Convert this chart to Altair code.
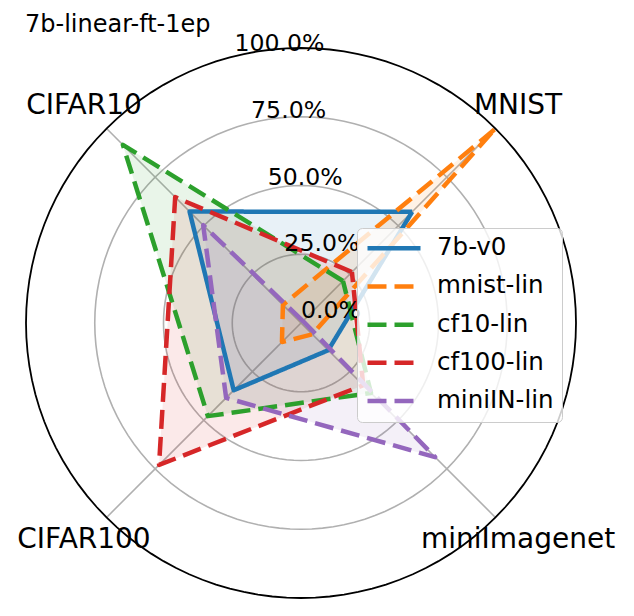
import altair as alt
import pandas as pd

# ---------------- data ----------------
CATEGORIES = ["MNIST", "CIFAR10", "CIFAR100", "miniImagenet"]
ANGLES = [45, 135, 225, 315]          # degrees, counter-clockwise from east
SERIES = ["7b-v0", "mnist-lin", "cf10-lin", "cf100-lin", "miniIN-lin"]
V_7B_V0 = [57.2, 57.3, 34.6, 14.0]
V_MNIST_LIN = [99.5, 9.3, 9.8, 5.8]
V_CF10_LIN = [21.6, 91.6, 47.9, 36.0]
V_CF100_LIN = [26.2, 64.7, 73.0, 32.0]
V_MINIIN_LIN = [1.0, 50.3, 38.5, 69.0]
VALUES = [V_7B_V0, V_MNIST_LIN, V_CF10_LIN, V_CF100_LIN, V_MINIIN_LIN]
COLORS = ["#1f77b4", "#ff7f0e", "#2ca02c", "#d62728", "#9467bd"]
DASHES = [[1, 0], [19, 8], [19, 8], [19, 8], [19, 8]]
RTICKS = [0, 25, 50, 75, 100]
RTICK_LABELS = ["0.0%", "25.0%", "50.0%", "75.0%", "100.0%"]
GRID_R = [25, 50, 75]
OUTER_R = 100
TITLE = "7b-linear-ft-1ep"

# ---------------- layout ----------------
W, H = 614, 596
CX, CY = 293, 315          # centre of the polar area in chart pixels
PX_PER_UNIT = 2.75         # pixels per 1 % of radius
LABEL_R = 111.6            # radius of the category labels (in % units)
RLABEL_ANGLE = 104         # angle of the radial tick labels
FONT = "DejaVu Sans"

XMIN, XMAX = -CX / PX_PER_UNIT, (W - CX) / PX_PER_UNIT
YMIN, YMAX = -(H - CY) / PX_PER_UNIT, CY / PX_PER_UNIT

X_ENC = alt.X("x:Q", scale=alt.Scale(domain=[XMIN, XMAX], nice=False, zero=False), axis=None)
Y_ENC = alt.Y("y:Q", scale=alt.Scale(domain=[YMIN, YMAX], nice=False, zero=False), axis=None)

XY_CALC = dict(
    x="datum.r * cos(datum.angle * PI / 180)",
    y="datum.r * sin(datum.angle * PI / 180)",
)

# series table (closed polygons)
rows = []
for s, vals in zip(SERIES, VALUES):
    for i in range(len(CATEGORIES) + 1):
        k = i % len(CATEGORIES)
        rows.append(dict(series=s, category=CATEGORIES[k], angle=ANGLES[k], r=vals[k], order=i))
series_df = pd.DataFrame(rows)

# grid circles
grid_rows = []
for r in GRID_R + [OUTER_R]:
    for t in range(0, 361, 3):
        grid_rows.append(dict(r=r, angle=t))
grid_df = pd.DataFrame(grid_rows)

spoke_df = pd.DataFrame(dict(angle=ANGLES, r=[OUTER_R] * len(ANGLES)))
cat_df = pd.DataFrame(dict(category=CATEGORIES, angle=ANGLES, r=[LABEL_R] * len(ANGLES)))
rtick_df = pd.DataFrame(dict(r=RTICKS, label=RTICK_LABELS, angle=[RLABEL_ANGLE] * len(RTICKS)))

# ---------------- layers ----------------
grid = (
    alt.Chart(grid_df)
    .transform_filter(f"datum.r < {OUTER_R}")
    .transform_calculate(**XY_CALC)
    .mark_line(color="#b0b0b0", strokeWidth=1.6)
    .encode(x=X_ENC, y=Y_ENC, detail="r:N", order="angle:Q")
)

spokes = (
    alt.Chart(spoke_df)
    .transform_calculate(x="0", y="0",
                         x2="datum.r * cos(datum.angle * PI / 180)",
                         y2="datum.r * sin(datum.angle * PI / 180)")
    .mark_rule(color="#b0b0b0", strokeWidth=1.6)
    .encode(x=X_ENC, y=Y_ENC, x2="x2:Q", y2="y2:Q")
)

outer = (
    alt.Chart(grid_df)
    .transform_filter(f"datum.r == {OUTER_R}")
    .transform_calculate(**XY_CALC)
    .mark_line(color="black", strokeWidth=1.8)
    .encode(x=X_ENC, y=Y_ENC, detail="r:N", order="angle:Q")
)

LEG = alt.Legend(
    title=None, orient="none", legendX=349, legendY=220,
    labelFontSize=24.5, labelFont=FONT, labelColor="black", labelLimit=400,
    symbolType="stroke", symbolSize=2809, symbolStrokeWidth=4.5,
    fillColor="rgba(255,255,255,0.8)", strokeColor="#cccccc", cornerRadius=5,
    padding=8, rowPadding=12.2, labelOffset=14, clipHeight=24.5,
)

fill_layers = []
for s, c in zip(SERIES, COLORS):
    fill_layers.append(
        alt.Chart(series_df)
        .transform_filter(alt.datum.series == s)
        .transform_calculate(**XY_CALC)
        .mark_line(fill=c, fillOpacity=0.1, strokeWidth=0, strokeOpacity=0)
        .encode(x=X_ENC, y=Y_ENC, order="order:Q")
    )

lines = (
    alt.Chart(series_df)
    .transform_calculate(**XY_CALC)
    .mark_line(strokeWidth=4.5, strokeJoin="round")
    .encode(
        x=X_ENC, y=Y_ENC,
        color=alt.Color("series:N", scale=alt.Scale(domain=SERIES, range=COLORS), legend=LEG),
        strokeDash=alt.StrokeDash("series:N", scale=alt.Scale(domain=SERIES, range=DASHES), legend=LEG),
        order="order:Q",
    )
)

cat_labels = (
    alt.Chart(cat_df)
    .transform_calculate(**XY_CALC)
    .mark_text(font=FONT, fontSize=28, align="center", baseline="middle", color="black")
    .encode(x=X_ENC, y=Y_ENC, text="category:N")
)

r_labels = (
    alt.Chart(rtick_df)
    .transform_calculate(**XY_CALC)
    .mark_text(font=FONT, fontSize=23.6, align="left", baseline="alphabetic", dy=-5, color="black")
    .encode(x=X_ENC, y=Y_ENC, text="label:N")
)

chart = (
    alt.layer(grid, spokes, *fill_layers, lines, outer, cat_labels, r_labels)
    .properties(
        width=W, height=H, padding=0,
        autosize=alt.AutoSizeParams(type="none"),
        title=alt.TitleParams(
            text=TITLE, anchor="start", frame="group", fontSize=24, font=FONT,
            fontWeight="normal", color="black", offset=0, dx=17, dy=48,
            baseline="alphabetic",
        ),
    )
    .configure_view(stroke=None)
)

chart.save("out.html", embed_options={"renderer": "svg", "actions": False})
